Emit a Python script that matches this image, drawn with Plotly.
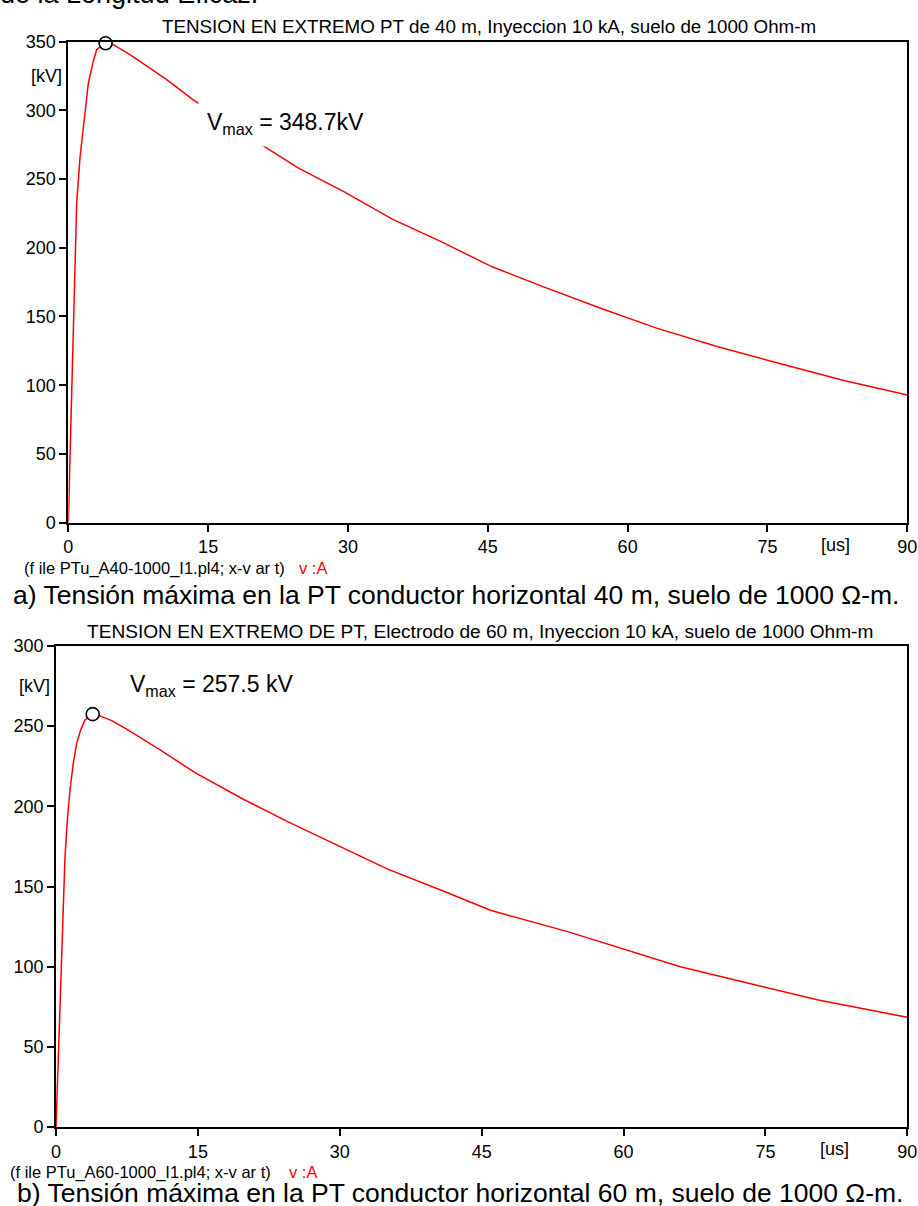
import plotly.graph_objects as go

# Voltage at the far end of the grounding conductor, 10 kA injection, 1000 Ohm-m soil
# a) 40 m horizontal conductor
t_a = [0, 0.18, 0.36, 0.61, 0.9, 1.26, 1.68, 2.15, 2.68, 3.04, 3.58, 4.0, 4.83, 6.62,
       10.56, 13.4, 21.3, 24.7, 29.7, 34.7, 40.1, 45.4, 51.2, 57.1, 63.1, 69.6, 76.2,
       83.2, 90.0]
v_a = [0, 50.7, 91.7, 171.8, 232.5, 266.0, 293.0, 319.8, 335.5, 344.0, 347.0, 348.7,
       347.7, 340.4, 322.2, 307.6, 272.5, 257.9, 240.2, 221.0, 204.1, 186.3, 171.0,
       156.0, 141.5, 128.1, 116.0, 103.4, 92.9]

# b) 60 m electrode
t_b = [0, 0.35, 0.71, 0.95, 1.2, 1.48, 1.83, 2.19, 2.61, 3.07, 3.88, 4.65, 5.89, 7.47,
       11.0, 14.7, 19.8, 24.7, 30.0, 35.0, 41.0, 46.0, 54.0, 60.0, 66.0, 73.0, 80.6, 90.0]
v_b = [0, 64.7, 127.0, 168.6, 191.5, 210.2, 226.9, 239.4, 247.7, 253.9, 257.5, 256.4,
       253.5, 248.1, 235.2, 221.0, 204.4, 189.8, 175.0, 161.0, 147.0, 135.0, 122.0,
       111.0, 100.0, 90.0, 79.2, 68.4]

peak_a = (4.0, 348.7)
peak_b = (3.88, 257.5)

x_ticks = [0, 15, 30, 45, 60, 75, 90]
y_ticks_a = [0, 50, 100, 150, 200, 250, 300, 350]
y_ticks_b = [0, 50, 100, 150, 200, 250, 300]

W, H = 918, 1206
FONT = "Arial, Liberation Sans, Helvetica, sans-serif"
RED = "#ff0000"


def px(v):
    return v / W


def py(v):
    return 1 - v / H


fig = go.Figure()

fig.add_trace(go.Scatter(x=t_a, y=v_a, mode="lines", line=dict(color=RED, width=1.5),
                         xaxis="x", yaxis="y", showlegend=False, hoverinfo="skip"))
fig.add_trace(go.Scatter(x=[peak_a[0]], y=[peak_a[1]], mode="markers",
                         marker=dict(size=13, color="white", line=dict(color="black", width=1.6)),
                         xaxis="x", yaxis="y", showlegend=False, cliponaxis=False))
fig.add_trace(go.Scatter(x=t_b, y=v_b, mode="lines", line=dict(color=RED, width=1.5),
                         xaxis="x2", yaxis="y2", showlegend=False, hoverinfo="skip"))
fig.add_trace(go.Scatter(x=[peak_b[0]], y=[peak_b[1]], mode="markers",
                         marker=dict(size=13, color="white", line=dict(color="black", width=1.6)),
                         xaxis="x2", yaxis="y2", showlegend=False, cliponaxis=False))

axis_common = dict(showgrid=False, zeroline=False, showline=True, linecolor="black",
                   linewidth=1.8, mirror=True, ticks="outside", ticklen=7, tickwidth=1.5,
                   tickcolor="black", automargin=False,
                   tickfont=dict(family=FONT, size=18, color="black"))

fig.update_layout(
    width=W, height=H,
    margin=dict(l=0, r=0, t=0, b=0, autoexpand=False),
    paper_bgcolor="white", plot_bgcolor="white",
    font=dict(family=FONT, color="black"),
    xaxis=dict(domain=[px(68.3), px(907.3)], range=[0, 90], tickvals=x_ticks,
               anchor="y", **axis_common),
    yaxis=dict(domain=[py(522.7), py(41.5)], range=[0, 350], tickvals=y_ticks_a,
               anchor="x", **axis_common),
    xaxis2=dict(domain=[px(56), px(907.3)], range=[0, 90], tickvals=x_ticks,
                anchor="y2", **axis_common),
    yaxis2=dict(domain=[py(1127), py(646)], range=[0, 300], tickvals=y_ticks_b,
                anchor="x2", **axis_common),
)


def label(text, x, y, size, xref="paper", yref="paper", xanchor="center", color="black", **kw):
    return dict(text=text, x=x, y=y, xref=xref, yref=yref, xanchor=xanchor,
                yanchor="middle", showarrow=False,
                font=dict(family=FONT, size=size, color=color), **kw)


ann = [
    # cut-off line of running text above the charts
    label("de la Longitud Eficaz.", px(-2), py(-6), 27, xanchor="left"),
    # chart titles
    label("TENSION EN EXTREMO PT de 40 m, Inyeccion 10 kA, suelo de 1000 Ohm-m",
          px(489), py(27), 18.8),
    label("TENSION EN EXTREMO DE PT, Electrodo de 60 m, Inyeccion 10 kA, suelo de 1000 Ohm-m",
          px(480), py(632), 19.1),
    # unit labels
    label("[kV]", px(64), 325, 18, yref="y", xanchor="right"),
    label("[kV]", px(52), 275, 18, yref="y2", xanchor="right"),
    label("[us]", 82.3, py(545), 18, xref="x"),
    label("[us]", 82.3, py(1149), 18, xref="x2"),
    # peak value labels
    label("V<sub>max</sub> = 348.7kV", px(198), py(123), 23, xanchor="left",
          bgcolor="white", borderpad=8),
    label("V<sub>max</sub> = 257.5 kV", px(128), py(685), 23, xanchor="left"),
    # file / variable footers
    label("(f ile PTu_A40-1000_I1.pl4; x-v ar t)", px(22), py(568), 16.5, xanchor="left"),
    label("v :A", px(297), py(568), 16.5, xanchor="left", color=RED),
    label("(f ile PTu_A60-1000_I1.pl4; x-v ar t)", px(8), py(1172), 16.5, xanchor="left"),
    label("v :A", px(287), py(1172), 16.5, xanchor="left", color=RED),
    # figure captions
    label("a) Tensión máxima en la PT conductor horizontal 40 m, suelo de 1000 Ω-m.",
          px(11), py(595), 26.5, xanchor="left"),
    label("b) Tensión máxima en la PT conductor horizontal 60 m, suelo de 1000 Ω-m.",
          px(15), py(1193), 26.5, xanchor="left"),
]

fig.update_layout(annotations=ann)

fig.write_html("out.html")
